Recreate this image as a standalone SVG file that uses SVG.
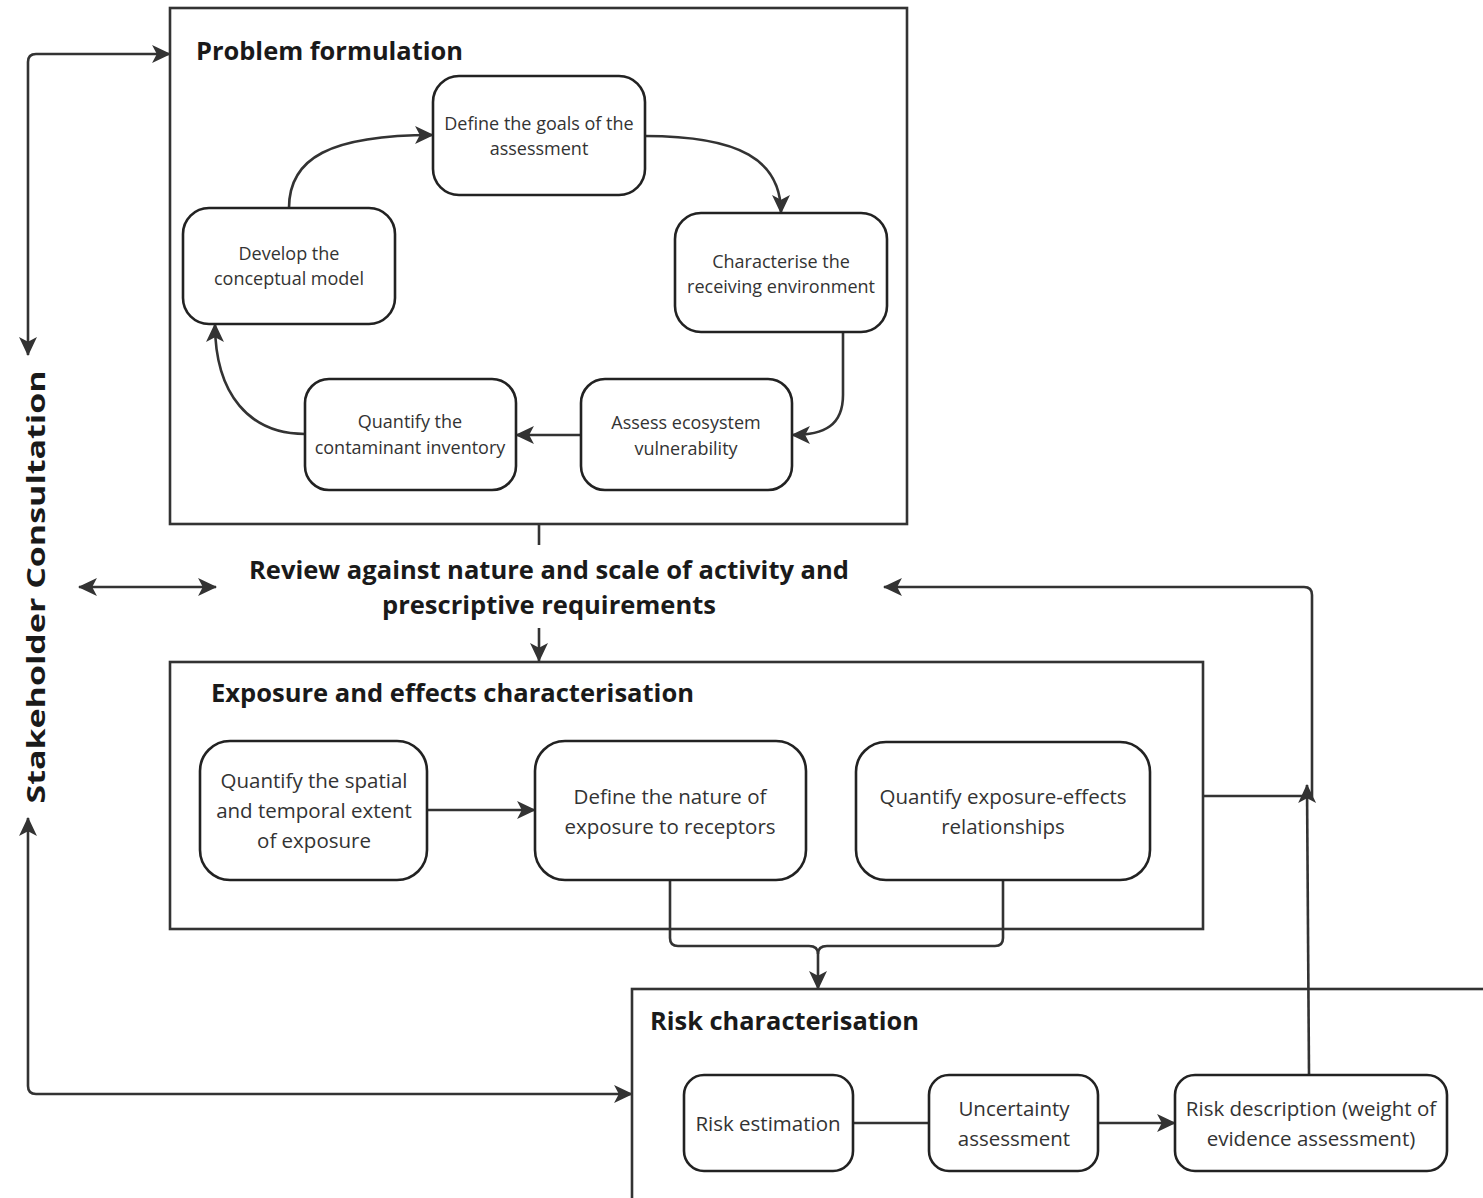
<svg xmlns="http://www.w3.org/2000/svg" width="1483" height="1198" viewBox="0 0 1483 1198">
<style>
.frame{fill:#fff;stroke:#333;stroke-width:2.6}
.node{fill:#fff;stroke:#222;stroke-width:2.6}
.edge{fill:none;stroke:#333;stroke-width:2.6}
.nt{font-family:"Open Sans","Noto Sans","Liberation Sans",sans-serif;font-size:18px;fill:#333;text-anchor:middle}
.nt2{font-family:"Open Sans","Noto Sans","Liberation Sans",sans-serif;font-size:20.5px;fill:#333;text-anchor:middle}
.title{font-family:"Open Sans","Noto Sans","Liberation Sans",sans-serif;font-weight:bold;font-size:25px;fill:#1a1a1a}
</style>
<defs>
<marker id="ah" viewBox="0 0 18 18" refX="17" refY="9" markerWidth="19" markerHeight="19" orient="auto-start-reverse" markerUnits="userSpaceOnUse">
<path d="M0,0.5 L18,9 L0,17.5 L4.5,9 z" fill="#333"/>
</marker>
</defs>
<rect width="1483" height="1198" fill="#fff"/>

<g id="problem-formulation">
<rect class="frame" x="170" y="8" width="737" height="516"/>
<text class="title" x="196" y="60" font-size="26" textLength="267" lengthAdjust="spacingAndGlyphs">Problem formulation</text>
</g>
<g id="exposure-frame">
<rect class="frame" x="170" y="662" width="1033" height="267"/>
<text class="title" x="211" y="702" font-size="26" textLength="483" lengthAdjust="spacingAndGlyphs">Exposure and effects characterisation</text>
</g>
<g id="risk-frame">
<rect class="frame" x="632" y="989" width="870" height="230"/>
<text class="title" x="650" y="1030" textLength="269" lengthAdjust="spacingAndGlyphs">Risk characterisation</text>
</g>

<g id="stakeholder">
<text class="title" font-size="37" text-anchor="middle" transform="translate(45,587) rotate(-90)" textLength="433" lengthAdjust="spacingAndGlyphs">Stakeholder Consultation</text>
</g>
<g id="review">
<text class="title" x="549" y="579" font-size="26" text-anchor="middle" textLength="600" lengthAdjust="spacingAndGlyphs">Review against nature and scale of activity and</text>
<text class="title" x="549" y="614" font-size="26" text-anchor="middle" textLength="334" lengthAdjust="spacingAndGlyphs">prescriptive requirements</text>
</g>

<g id="connectors">
<path class="edge" d="M289,208 C289,158 330,135 433,135" marker-end="url(#ah)"/>
<path class="edge" d="M645,136 C740,136 781,160 781,213" marker-end="url(#ah)"/>
<path class="edge" d="M843,332 L843,395 C843,425 825,435 792,435" marker-end="url(#ah)"/>
<path class="edge" d="M581,435 L516,435" marker-end="url(#ah)"/>
<path class="edge" d="M305,434 C250,434 215,395 215,324" marker-end="url(#ah)"/>
<path class="edge" d="M28,355 L28,62 Q28,54 36,54 L170,54" marker-start="url(#ah)" marker-end="url(#ah)"/>
<path class="edge" d="M28,818 L28,1086 Q28,1094 36,1094 L632,1094" marker-start="url(#ah)" marker-end="url(#ah)"/>
<path class="edge" d="M79,587 L216,587" marker-start="url(#ah)" marker-end="url(#ah)"/>
<path class="edge" d="M539,524 L539,545"/>
<path class="edge" d="M539,628 L539,661" marker-end="url(#ah)"/>
<path class="edge" d="M427,810 L535,810" marker-end="url(#ah)"/>
<path class="edge" d="M670,880 L670,938 Q670,946 678,946 L809,946 Q818,946 818,954"/>
<path class="edge" d="M1003,880 L1003,938 Q1003,946 995,946 L827,946 Q818,946 818,954 L818,989" marker-end="url(#ah)"/>
<path class="edge" d="M853,1123 L929,1123"/>
<path class="edge" d="M1098,1123 L1175,1123" marker-end="url(#ah)"/>
<path class="edge" d="M1309,1075 L1307,785" marker-end="url(#ah)"/>
<path class="edge" d="M1203,796 L1312,796 L1312,595 Q1312,587 1304,587 L884,587" marker-end="url(#ah)"/>
</g>

<g id="n-define-goals">
<rect class="node" x="433" y="76" width="212" height="119" rx="26"/>
<text class="nt" x="539" y="130">Define the goals of the</text>
<text class="nt" x="539" y="155">assessment</text>
</g>
<g id="n-characterise">
<rect class="node" x="675" y="213" width="212" height="119" rx="26"/>
<text class="nt" x="781" y="268">Characterise the</text>
<text class="nt" x="781" y="293">receiving environment</text>
</g>
<g id="n-develop">
<rect class="node" x="183" y="208" width="212" height="116" rx="26"/>
<text class="nt" x="289" y="260">Develop the</text>
<text class="nt" x="289" y="285">conceptual model</text>
</g>
<g id="n-quantify-contaminant">
<rect class="node" x="305" y="379" width="211" height="111" rx="24"/>
<text class="nt" x="410" y="428">Quantify the</text>
<text class="nt" x="410" y="454">contaminant inventory</text>
</g>
<g id="n-assess">
<rect class="node" x="581" y="379" width="211" height="111" rx="24"/>
<text class="nt" x="686" y="429">Assess ecosystem</text>
<text class="nt" x="686" y="455">vulnerability</text>
</g>

<g id="n-quantify-spatial">
<rect class="node" x="200" y="741" width="227" height="139" rx="30"/>
<text class="nt2" x="314" y="788">Quantify the spatial</text>
<text class="nt2" x="314" y="818">and temporal extent</text>
<text class="nt2" x="314" y="848">of exposure</text>
</g>
<g id="n-define-nature">
<rect class="node" x="535" y="741" width="271" height="139" rx="30"/>
<text class="nt2" x="670" y="804">Define the nature of</text>
<text class="nt2" x="670" y="834">exposure to receptors</text>
</g>
<g id="n-quantify-effects">
<rect class="node" x="856" y="742" width="294" height="138" rx="30"/>
<text class="nt2" x="1003" y="804">Quantify exposure-effects</text>
<text class="nt2" x="1003" y="834">relationships</text>
</g>

<g id="n-risk-estimation">
<rect class="node" x="684" y="1075" width="169" height="96" rx="20"/>
<text class="nt2" x="768" y="1131">Risk estimation</text>
</g>
<g id="n-uncertainty">
<rect class="node" x="929" y="1075" width="169" height="96" rx="20"/>
<text class="nt2" x="1014" y="1116">Uncertainty</text>
<text class="nt2" x="1014" y="1146">assessment</text>
</g>
<g id="n-risk-description">
<rect class="node" x="1175" y="1075" width="272" height="96" rx="20"/>
<text class="nt2" x="1311" y="1116">Risk description (weight of</text>
<text class="nt2" x="1311" y="1146">evidence assessment)</text>
</g>
</svg>
